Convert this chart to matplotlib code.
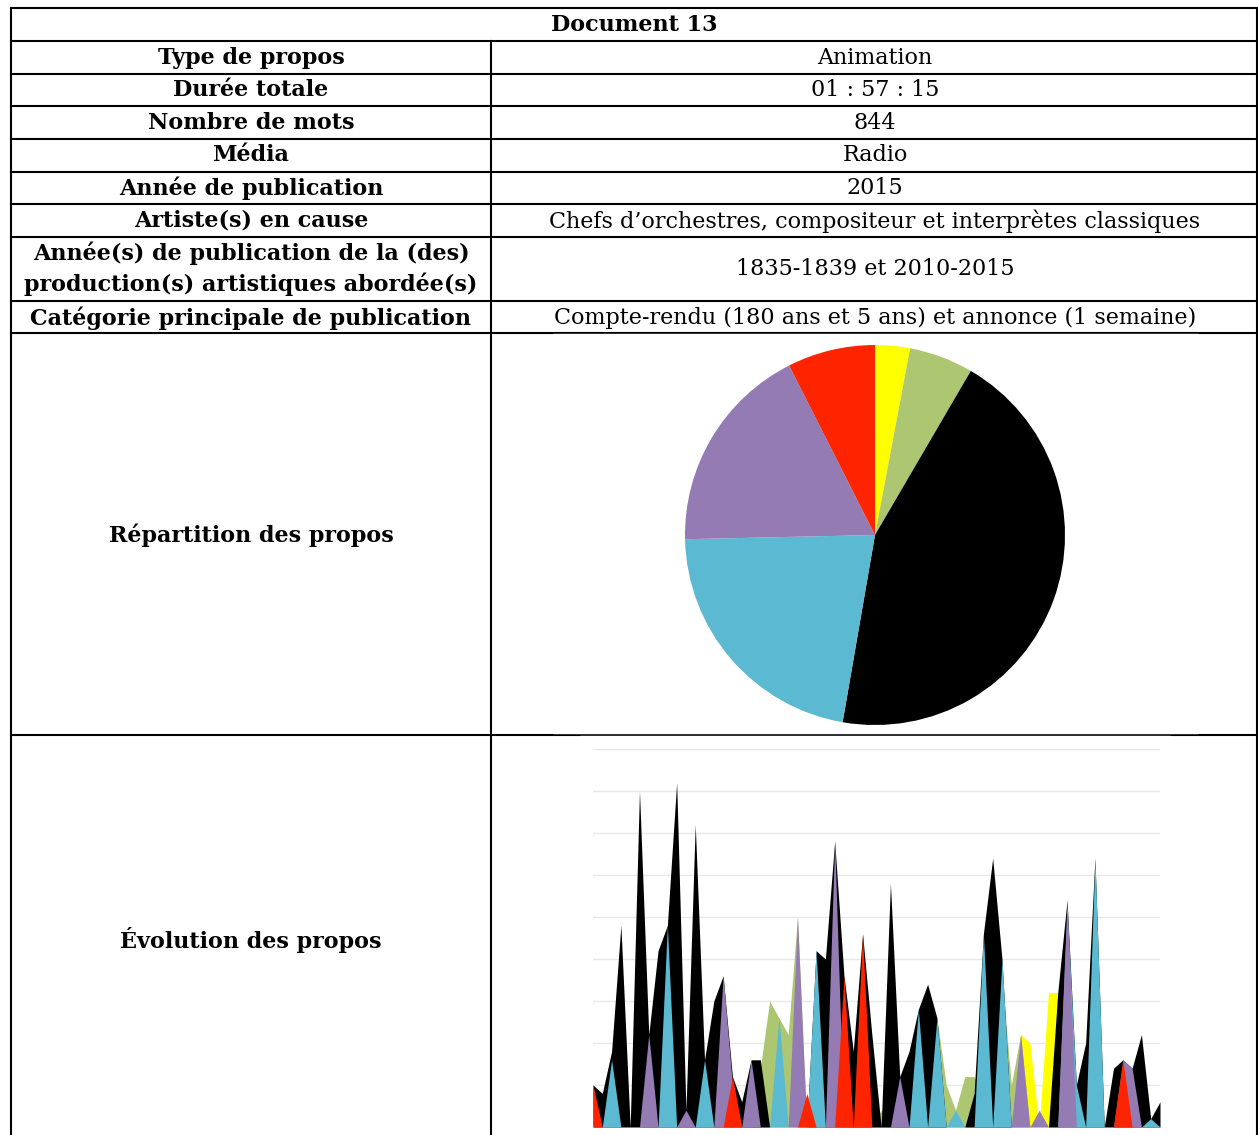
import matplotlib.pyplot as plt
import numpy as np

# --- DATA ---
row_labels = ['Type de propos', 'Durée totale', 'Nombre de mots', 'Média',
              'Année de publication', 'Artiste(s) en cause',
              'Année(s) de publication de la (des)\nproduction(s) artistiques abordée(s)',
              'Catégorie principale de publication']
row_values = ['Animation', '01 : 57 : 15', '844', 'Radio', '2015',
              'Chefs d’orchestres, compositeur et interprètes classiques',
              '1835-1839 et 2010-2015',
              'Compte-rendu (180 ans et 5 ans) et annonce (1 semaine)']

# word counts per category (pie), clockwise from the top
pie_colors = ['#FFFF00', '#ADC672', '#000000', '#5BB9D1', '#947BB3', '#FF2400']
pie_words = [25, 46, 374, 185, 151, 63]

# evolution over time, one list per category (same order / colours as the pie)
yellow = [0] * 46 + [11, 10, 0, 16, 16] + [0] * 11
green = [0] * 18 + [7, 15, 13, 11, 25] + [0] * 8 + [2] + [0] * 5 + \
        [13, 5, 2, 6, 6, 4, 10, 18, 5, 11] + [0] * 15
black = [5, 4, 9, 24, 0, 40, 11, 21, 24, 41, 2, 36, 8, 15, 18, 6, 3, 8, 8, 0,
         0, 0, 0, 0, 21, 20, 34, 18, 9, 23, 11, 0, 29, 6, 9, 14, 17, 13, 0, 0,
         0, 4, 23, 32, 20, 0, 0, 0, 0, 0, 16, 27, 5, 10, 32, 0, 7, 8, 7, 11,
         1, 3]
cyan = [0, 0, 8, 0, 0, 0, 0, 0, 24, 0, 0, 0, 8, 0, 0, 0, 0, 0, 0, 0,
        13, 0, 0, 0, 21, 0, 0, 0, 0, 0, 0, 0, 0, 0, 0, 14, 0, 13, 0, 2,
        0, 0, 23, 0, 20, 0, 0, 0, 0, 0, 0, 26, 5, 0, 32, 0, 0, 0, 0, 0,
        1, 0]
purple = [0, 0, 0, 0, 0, 0, 11, 0, 0, 0, 2, 0, 0, 0, 18, 5, 0, 8, 0, 0,
          0, 0, 25, 0, 0, 0, 34, 0, 0, 0, 0, 0, 0, 6, 0, 0, 0, 0, 0, 0,
          0, 0, 0, 0, 0, 0, 11, 0, 2, 0, 0, 27, 0, 0, 0, 0, 0, 8, 7, 0,
          0, 0]
red = [5] + [0] * 14 + [6] + [0] * 7 + [4] + [0] * 3 + [18, 0, 23] + \
      [0] * 27 + [8] + [0] * 4
series = [yellow, green, black, cyan, purple, red]

W, H = 1258, 1135
fig = plt.figure(figsize=(W / 100, H / 100), dpi=100)

# background axes in pixel coordinates for the table
bg = fig.add_axes([0, 0, 1, 1])
bg.set_xlim(0, W)
bg.set_ylim(H, 0)
bg.axis('off')

lw = 1.5
x_left, x_mid, x_right = 11, 491, 1257
h_lines = [8, 41, 74, 106, 139, 172, 204, 237, 301, 333, 735]
for y in h_lines:
    bg.plot([x_left, x_right], [y, y], color='black', lw=lw, solid_capstyle='projecting')
bg.plot([x_left, x_left], [8, H], color='black', lw=lw)
bg.plot([x_right, x_right], [8, H], color='black', lw=lw)
bg.plot([x_mid, x_mid], [41, H], color='black', lw=lw)

font = 'DejaVu Serif'
fs = 16
bg.text((x_left + x_right) / 2, 25, 'Document 13', ha='center', va='center',
        fontsize=fs, fontweight='bold', family=font)

row_y = [58, 90, 123, 155, 188, 221, 269, 318]
for lab, val, y in zip(row_labels, row_values, row_y):
    bg.text(251, y, lab, ha='center', va='center', fontsize=fs,
            fontweight='bold', family=font, linespacing=1.4)
    bg.text(875, y, val, ha='center', va='center', fontsize=fs, family=font)

bg.text(251, 535, 'Répartition des propos', ha='center', va='center',
        fontsize=fs, fontweight='bold', family=font)
bg.text(251, 940, 'Évolution des propos', ha='center', va='center',
        fontsize=fs, fontweight='bold', family=font)

# white chart frames sitting over the table borders
bg.add_patch(plt.Rectangle((553, 334), 645, 399, color='white', zorder=5))
bg.add_patch(plt.Rectangle((580, 736), 590, 420, color='white', zorder=5))


def px_box(x0, y0, x1, y1):
    return [x0 / W, 1 - y1 / H, (x1 - x0) / W, (y1 - y0) / H]


# --- PIE ---
ax_pie = fig.add_axes(px_box(685, 345, 1065, 725))
ax_pie.pie(pie_words, colors=pie_colors, startangle=90, counterclock=False,
           wedgeprops=dict(linewidth=0))
ax_pie.set_xlim(-1, 1)
ax_pie.set_ylim(-1, 1)
ax_pie.set_aspect('equal')
ax_pie.axis('off')

# --- AREA CHART ---
ax = fig.add_axes(px_box(593, 749, 1160, 1127))
x = np.arange(len(black))
for vals, col in zip(series, pie_colors):
    ax.fill_between(x, 0, vals, color=col, lw=0, zorder=2)
for g in range(5, 50, 5):
    ax.axhline(g, color='#E8E8E8', lw=1, zorder=1)
ax.set_xlim(0, len(black) - 1)
ax.set_ylim(0, 45)
for s in ax.spines.values():
    s.set_visible(False)
ax.set_xticks([])
ax.set_yticks([])
ax.patch.set_alpha(0)

fig.savefig('out.png', dpi=100)
